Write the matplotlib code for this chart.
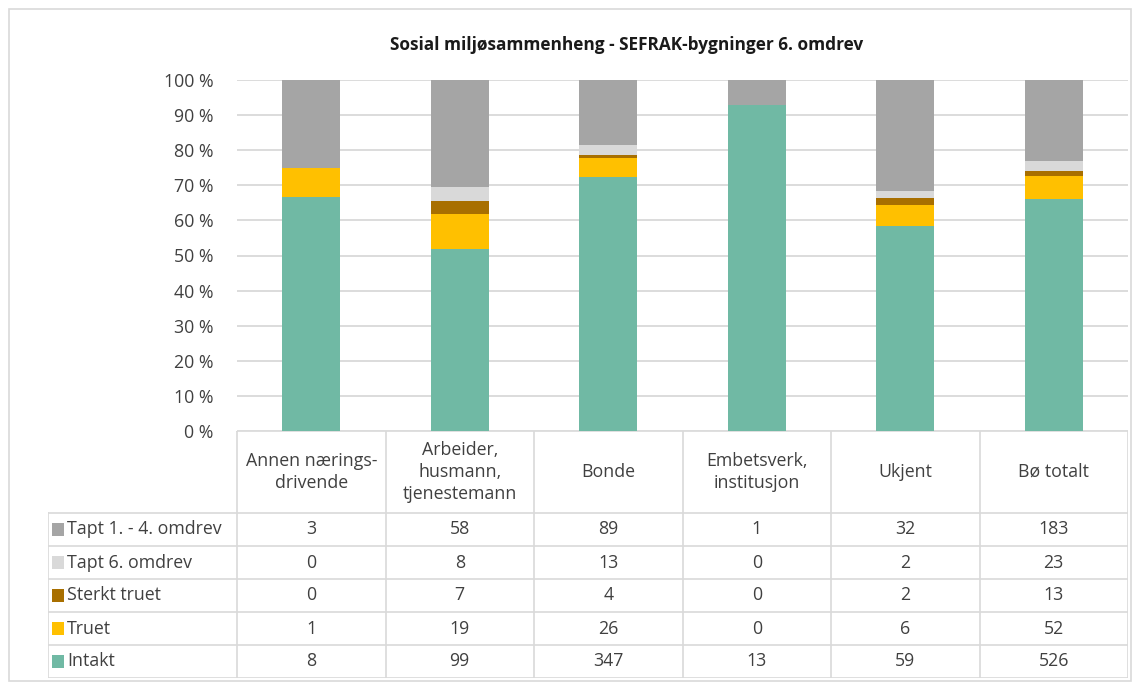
import numpy as np
import matplotlib.pyplot as plt
from matplotlib.patches import Rectangle

plt.rcParams['font.family'] = ['Open Sans', 'DejaVu Sans']

title = 'Sosial miljøsammenheng - SEFRAK-bygninger 6. omdrev'
categories = ['Annen nærings-\ndrivende', 'Arbeider,\nhusmann,\ntjenestemann', 'Bonde',
              'Embetsverk,\ninstitusjon', 'Ukjent', 'Bø totalt']

# series in stacking order (bottom -> top)
series_names = ['Intakt', 'Truet', 'Sterkt truet', 'Tapt 6. omdrev', 'Tapt 1. - 4. omdrev']
intakt = [8, 99, 347, 13, 59, 526]
truet = [1, 19, 26, 0, 6, 52]
sterkt_truet = [0, 7, 4, 0, 2, 13]
tapt_6 = [0, 8, 13, 0, 2, 23]
tapt_1_4 = [3, 58, 89, 1, 32, 183]
colors = ['#70b9a4', '#ffc000', '#a86f00', '#d9d9d9', '#a5a5a5']

values = np.array([intakt, truet, sterkt_truet, tapt_6, tapt_1_4], dtype=float)
shares = values / values.sum(axis=0) * 100

W, H = 1140, 684
fig = plt.figure(figsize=(W / 100, H / 100), dpi=100)
txt = '#404040'
grid_c = '#d9d9d9'
fs = 12.8

# outer chart border
fig.patches.append(Rectangle((9 / W, 3 / H), 1122 / W, 672 / H, transform=fig.transFigure,
                             fill=False, edgecolor='#d9d9d9', linewidth=1.2))

left, right, top, zero = 237, 1128, 80, 431
ax = fig.add_axes([left / W, 1 - zero / H, (right - left) / W, (zero - top) / H])
x = np.arange(len(categories))
bottom = np.zeros(len(categories))
for name, share, c in zip(series_names, shares, colors):
    ax.bar(x, share, bottom=bottom, width=0.39, color=c, label=name, zorder=3)
    bottom += share
ax.set_xlim(-0.5, len(categories) - 0.5)
ax.set_ylim(0, 100)
ax.set_yticks(np.arange(0, 101, 10))
ax.set_yticklabels([f'{v} %' for v in range(0, 101, 10)])
ax.tick_params(axis='y', length=0, pad=17, labelsize=fs, labelcolor=txt)
ax.set_xticks([])
ax.grid(axis='y', color=grid_c, linewidth=1.3, zorder=0)
for s in ax.spines.values():
    s.set_visible(False)
fig.text(627 / W, 1 - 45 / H, title, ha='center', va='center', fontsize=12.4,
         fontweight='bold', color='#1a1a1a')

# data table below the plot
tb_left, tb_bottom, row_h, head_h = 48, 678, 33, 82
n_rows = len(series_names)
cat_w = (right - left) / len(categories)
label_w = (left - tb_left) / cat_w
tax = fig.add_axes([tb_left / W, 1 - tb_bottom / H, (right - tb_left) / W,
                    (tb_bottom - zero) / H])
tax.set_xlim(-0.5 - label_w, len(categories) - 0.5)
tax.set_ylim(0, n_rows + head_h / row_h)
tax.axis('off')
top_y = n_rows + head_h / row_h
lw = 1.2
# horizontal lines
tax.plot([-0.5, len(categories) - 0.5], [top_y, top_y], color=grid_c, lw=lw)
for r in range(n_rows + 1):
    tax.plot([-0.5 - label_w, len(categories) - 0.5], [r, r], color=grid_c, lw=lw)
# vertical lines
tax.plot([-0.5 - label_w] * 2, [0, n_rows], color=grid_c, lw=lw)
for i in range(len(categories) + 1):
    tax.plot([i - 0.5] * 2, [0, top_y], color=grid_c, lw=lw)

for i, cat in enumerate(categories):
    tax.text(i, (n_rows + top_y) / 2, cat, ha='center', va='center', fontsize=fs,
             color=txt, linespacing=1.3)

# rows, top row = last series
for r, (name, vals, c) in enumerate(zip(series_names, values, colors)):
    yc = r + 0.5
    tax.add_patch(Rectangle((-0.5 - label_w + 0.03, yc - 0.2), 0.075, 0.4,
                            facecolor=c, edgecolor='none'))
    tax.text(-0.5 - label_w + 0.13, yc, name, ha='left', va='center', fontsize=fs,
             color=txt)
    for i, v in enumerate(vals):
        tax.text(i, yc, f'{int(v)}', ha='center', va='center', fontsize=fs, color=txt)

fig.savefig('out.png', dpi=100)
